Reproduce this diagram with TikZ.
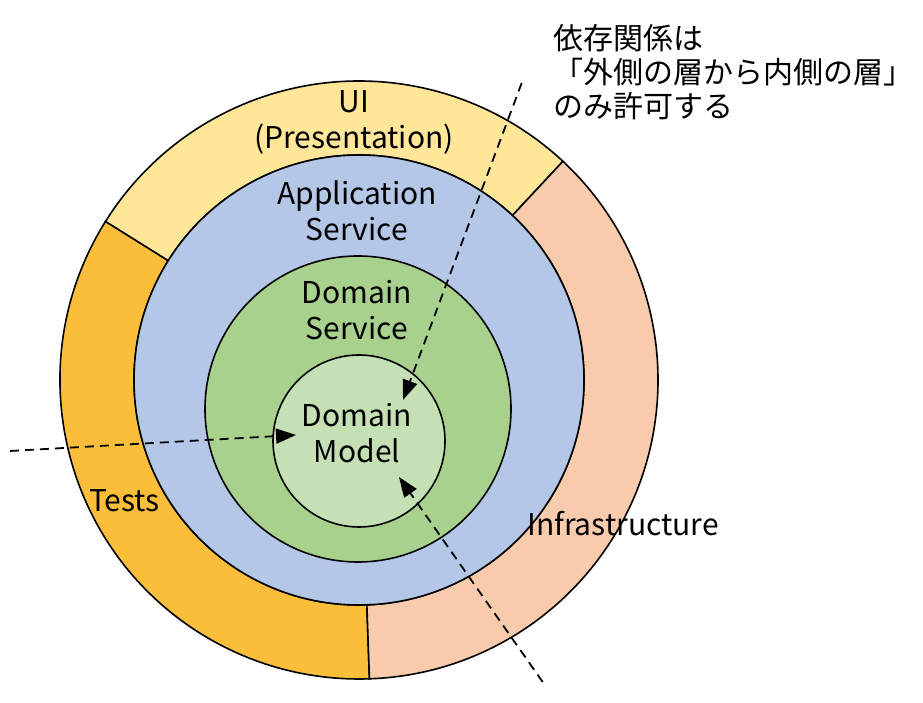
\documentclass[tikz,border=0pt]{standalone}
\usepackage{fontspec}
\setmainfont{Noto Sans CJK JP}
\usetikzlibrary{arrows.meta,calc}
\definecolor{uicol}{HTML}{FFE699}
\definecolor{testcol}{HTML}{FBBE3A}
\definecolor{infracol}{HTML}{F8CBAD}
\definecolor{appcol}{HTML}{B4C7E7}
\definecolor{dscol}{HTML}{A9D18E}
\definecolor{dmcol}{HTML}{C5E0B4}
\tikzset{
  ringline/.style={draw=black, line width=1.6pt},
  lbl/.style={font=\fontsize{30}{36}\selectfont, align=center, inner sep=0pt},
  jlbl/.style={font=\fontsize{30}{34}\selectfont, anchor=west, inner sep=0pt},
  deparrow/.style={line width=1.8pt, dash pattern=on 9pt off 6pt, -{Triangle[length=20pt,width=15pt]}}
}
\begin{document}
\begin{tikzpicture}[x=1pt,y=1pt]
\useasboundingbox (0,0) rectangle (923,703);
\coordinate (c) at (359,323);
% outer ring sectors
\path[ringline, fill=uicol] ($(c)+(47:299)$) arc[start angle=47, end angle=148, radius=299]
  -- ($(c)+(148:225)$) arc[start angle=148, end angle=47, radius=225] -- cycle;
\path[ringline, fill=testcol] ($(c)+(148:299)$) arc[start angle=148, end angle=272, radius=299]
  -- ($(c)+(272:225)$) arc[start angle=272, end angle=148, radius=225] -- cycle;
\path[ringline, fill=infracol] ($(c)+(-88:299)$) arc[start angle=-88, end angle=47, radius=299]
  -- ($(c)+(47:225)$) arc[start angle=47, end angle=-88, radius=225] -- cycle;
% inner circles
\node[ringline, fill=appcol, circle, minimum size=450pt, inner sep=0pt] (app) at (c) {};
\node[ringline, fill=dscol, circle, minimum size=306pt, inner sep=0pt] (ds) at (358,294) {};
\node[ringline, fill=dmcol, circle, minimum size=172pt, inner sep=0pt] (dm) at (359,262) {};
% labels
\node[lbl] (ui) at (354,581) {UI\\(Presentation)};
\node[lbl] (appl) at (357,492) {Application\\Service};
\node[lbl] (dsl) at (357,393) {Domain\\Service};
\node[lbl] (dml) at (357,270) {Domain\\Model};
\node[lbl] (tests) at (124.5,202) {Tests};
\node[lbl] (infra) at (623,179) {Infrastructure};
\node[jlbl] (j1) at (553,665) {依存関係は};
\node[jlbl] (j2) at (553,631) {「外側の層から内側の層」};
\node[jlbl] (j3) at (553,597) {のみ許可する};
% dependency arrows
\coordinate (s1) at (10,252);
\coordinate (t1) at (296,268);
\coordinate (s2) at (521.7,620);
\coordinate (t2) at (403,303);
\coordinate (s3) at (542.7,21);
\coordinate (t3) at (399,226);
\draw[deparrow] (s1) -- (t1);
\draw[deparrow] (s2) -- (t2);
\draw[deparrow] (s3) -- (t3);
\end{tikzpicture}
\end{document}
